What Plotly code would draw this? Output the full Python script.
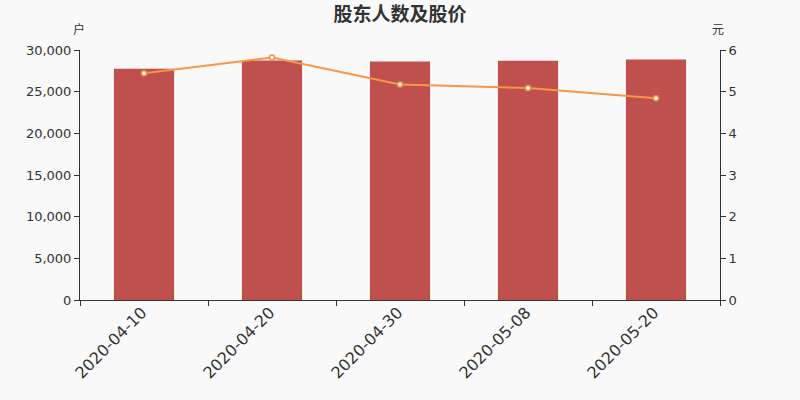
import plotly.graph_objects as go

dates = ["2020-04-10", "2020-04-20", "2020-04-30", "2020-05-08", "2020-05-20"]
holders = [27740, 28730, 28610, 28700, 28850]
prices = [5.44, 5.82, 5.17, 5.09, 4.84]

y_ticks = [0, 5000, 10000, 15000, 20000, 25000, 30000]
y2_ticks = [0, 1, 2, 3, 4, 5, 6]

fig = go.Figure()
fig.add_trace(go.Bar(
    x=dates, y=holders, name="股东人数",
    marker=dict(color="#c0504d", line=dict(width=0)),
    yaxis="y",
))
fig.add_trace(go.Scatter(
    x=dates, y=prices, name="股价", mode="lines+markers",
    line=dict(color="#f79646", width=2),
    marker=dict(size=5, color="white", line=dict(color="#f79646", width=1.5)),
    yaxis="y2",
))

axis_font = dict(family="DejaVu Sans, Noto Sans CJK SC", size=13, color="#333333")
fig.update_layout(
    width=800, height=400,
    paper_bgcolor="#f9f9f9", plot_bgcolor="#f9f9f9",
    margin=dict(l=80, r=80, t=50, b=100, autoexpand=False),
    showlegend=False,
    bargap=0.53,
    title=dict(text="<b>股东人数及股价</b>", x=0.5, xanchor="center",
               xref="paper", yref="container", y=0.965, yanchor="middle",
               font=dict(family="Noto Sans CJK SC", size=19, color="#333333")),
    xaxis=dict(
        type="category", tickson="boundaries", ticks="outside", ticklen=5,
        tickcolor="#333333", showline=True, linecolor="#333333", linewidth=1,
        showgrid=False, tickangle=-45, automargin=False,
        ticklabelstandoff=-4, ticklabelshift=-2,
        tickfont=dict(family="DejaVu Sans", size=16, color="#333333"),
    ),
    yaxis=dict(
        range=[0, 30000], tickvals=y_ticks, tickformat=",d",
        ticks="outside", ticklen=5, tickcolor="#333333",
        showline=True, linecolor="#333333", linewidth=1, automargin=False,
        showgrid=False, zeroline=False, tickfont=axis_font,
    ),
    yaxis2=dict(
        range=[0, 6], tickvals=y2_ticks, overlaying="y", side="right",
        ticks="outside", ticklen=5, tickcolor="#333333",
        showline=True, linecolor="#333333", linewidth=1, automargin=False,
        showgrid=False, zeroline=False, tickfont=axis_font,
    ),
    annotations=[
        dict(text="户", xref="paper", yref="paper", x=0, y=1, yshift=22, xshift=-1,
             xanchor="center", yanchor="middle",
             showarrow=False, font=dict(family="Noto Sans CJK SC", size=12, color="#333333")),
        dict(text="元", xref="paper", yref="paper", x=1, y=1, yshift=22, xshift=-2,
             xanchor="center", yanchor="middle",
             showarrow=False, font=dict(family="Noto Sans CJK SC", size=12, color="#333333")),
    ],
)

fig.write_html("out.html", config={"displayModeBar": False},
               post_script="document.body.style.margin='0px';document.body.style.background='#f9f9f9';")
